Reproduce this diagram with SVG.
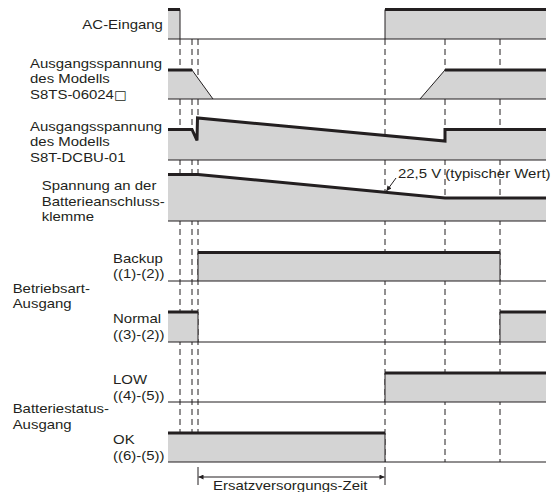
<svg xmlns="http://www.w3.org/2000/svg" width="558" height="492" viewBox="0 0 558 492">
<style>
.bg{fill:#ffffff}
.fill{fill:#d4d4d4;stroke:none}
.base{stroke:#231f20;stroke-width:1.2;fill:none}
.thick{stroke:#231f20;stroke-width:3;fill:none;stroke-linejoin:miter}
.thin{stroke:#231f20;stroke-width:1;fill:none}
.dash{stroke:#231f20;stroke-width:1;stroke-dasharray:6 4;fill:none}
.t{font-family:"Liberation Sans",Arial,sans-serif;font-size:13px;fill:#231f20}
.e{text-anchor:end}
.sq{font-family:"DejaVu Sans",sans-serif;font-size:12px}
</style>
<defs>
<marker id="ah" viewBox="0 0 10 10" refX="10" refY="5" markerWidth="8" markerHeight="5" markerUnits="userSpaceOnUse" orient="auto-start-reverse">
<path d="M0,0 L10,5 L0,10 Z" fill="#231f20"/>
</marker>
<marker id="ahs" viewBox="0 0 10 10" refX="10" refY="5" markerWidth="6" markerHeight="5" markerUnits="userSpaceOnUse" orient="auto">
<path d="M0,0 L10,5 L0,10 Z" fill="#231f20"/>
</marker>
</defs>
<rect class="bg" x="0" y="0" width="558" height="492"/>

<g id="connectors">
<path class="dash" d="M180,39V462M192,39V462M198,39V462M385,39V462M445,39V462M500,39V462"/>
</g>

<g id="ac-eingang">
<rect class="fill" x="168" y="9.5" width="12" height="29.5"/>
<rect class="fill" x="385" y="9.5" width="161" height="29.5"/>
<path class="thin" d="M180,9.5V39M385,9.5V39"/>
<path class="thick" d="M168,9.5H180M385,9.5H546"/>
<path class="base" d="M168,39H546"/>
</g>

<g id="s8ts">
<polygon class="fill" points="168,70 192,70 213,99 168,99"/>
<polygon class="fill" points="420,99 445,70 546,70 546,99"/>
<path class="thin" d="M192,70L213,99M420,99L445,70"/>
<path class="thick" d="M168,70H192M445,70H546"/>
<path class="base" d="M168,99H546"/>
</g>

<g id="s8t-dcbu">
<polygon class="fill" points="168,129.5 192,129.5 197,140.5 197.5,140.5 197.5,118 445,141 445,129.5 546,129.5 546,160 168,160"/>
<polyline class="thick" points="168,129.5 192,129.5 197,140.5 197.5,118 445,141 445,129.5 546,129.5"/>
<path class="base" d="M168,160H546"/>
</g>

<g id="batterie-spannung">
<polygon class="fill" points="168,174.5 198,174.5 445,198 546,198 546,221 168,221"/>
<polyline class="thick" points="168,174.5 198,174.5 445,198 546,198"/>
<path class="base" d="M168,221H546"/>
<path class="thin" d="M396,178L386.5,191" marker-end="url(#ahs)"/>
</g>

<g id="backup">
<rect class="fill" x="198" y="252.5" width="302" height="28.5"/>
<path class="thin" d="M198,252.5V281M500,252.5V281"/>
<path class="thick" d="M198,252.5H500"/>
<path class="base" d="M168,281H546"/>
</g>

<g id="normal">
<rect class="fill" x="168" y="312" width="30" height="30"/>
<rect class="fill" x="500" y="312" width="46" height="30"/>
<path class="thin" d="M198,312V342M500,312V342"/>
<path class="thick" d="M168,312H198M500,312H546"/>
<path class="base" d="M168,342H546"/>
</g>

<g id="low">
<rect class="fill" x="385" y="373" width="161" height="29"/>
<path class="thin" d="M385,373V402"/>
<path class="thick" d="M385,373H546"/>
<path class="base" d="M168,402H546"/>
</g>

<g id="ok">
<rect class="fill" x="168" y="433" width="217" height="29"/>
<path class="thin" d="M385,433V462"/>
<path class="thick" d="M168,433H385"/>
<path class="base" d="M168,462H546"/>
</g>

<g id="ersatz-zeit">
<path class="thin" d="M198,467V485M385,467V485"/>
<path class="thin" d="M198.5,477H384.5" marker-start="url(#ah)" marker-end="url(#ah)"/>
</g>

<g id="labels" transform="scale(1.15,1)">
<text class="t e" x="141.7" y="29.5">AC-Eingang</text>
<text class="t" x="26.1" y="68">Ausgangsspannung</text>
<text class="t" x="26.1" y="83.5">des Modells</text>
<text class="t" x="26.1" y="99">S8TS-06024<tspan class="sq">□</tspan></text>
<text class="t" x="26.1" y="131">Ausgangsspannung</text>
<text class="t" x="26.1" y="146.5">des Modells</text>
<text class="t" x="26.1" y="162">S8T-DCBU-01</text>
<text class="t" x="36.3" y="190">Spannung an der</text>
<text class="t" x="36.3" y="206">Batterieanschluss-</text>
<text class="t" x="36.3" y="221.5">klemme</text>
<text class="t" x="98.3" y="263">Backup</text>
<text class="t" x="98.3" y="278">((1)-(2))</text>
<text class="t" x="11" y="293">Betriebsart-</text>
<text class="t" x="11" y="308.5">Ausgang</text>
<text class="t" x="98.3" y="323">Normal</text>
<text class="t" x="98.3" y="339">((3)-(2))</text>
<text class="t" x="98.3" y="384">LOW</text>
<text class="t" x="98.3" y="400">((4)-(5))</text>
<text class="t" x="11" y="413.5">Batteriestatus-</text>
<text class="t" x="11" y="429.5">Ausgang</text>
<text class="t" x="98.3" y="444">OK</text>
<text class="t" x="98.3" y="460">((6)-(5))</text>
<text class="t" x="346.1" y="178">22,5 V (typischer Wert)</text>
<text class="t" x="185.2" y="490.5">Ersatzversorgungs-Zeit</text>
</g>
</svg>
